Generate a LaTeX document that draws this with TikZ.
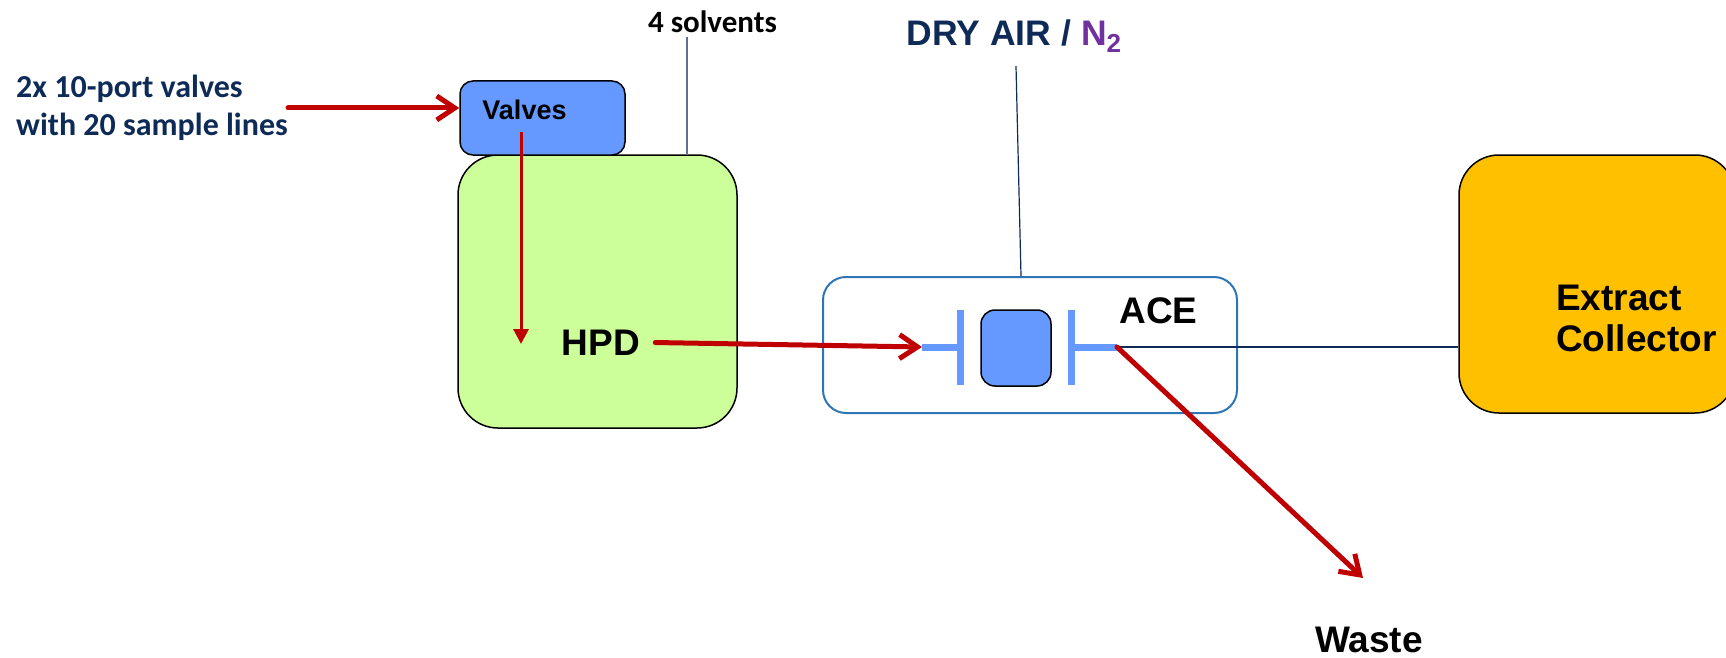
\documentclass[tikz,border=0pt]{standalone}
\usepackage{fontspec}
\setmainfont{Liberation Sans}
\newfontfamily\calib{Carlito}
\usetikzlibrary{arrows.meta}
\definecolor{navy}{HTML}{0E2B58}
\definecolor{flowred}{HTML}{C00000}
\definecolor{valveblue}{HTML}{6699FF}
\definecolor{hpdgreen}{HTML}{CCFF99}
\definecolor{aceblue}{HTML}{2E75B6}
\definecolor{gold}{HTML}{FFC000}
\definecolor{npurple}{HTML}{7030A0}
\definecolor{pipegray}{HTML}{5B7294}

\begin{document}
\begin{tikzpicture}[x=1pt, y=-1pt,
    box/.style = {draw=black, line width=1.5pt, rounded corners=#1, inner sep=0pt},
    lbl/.style = {inner sep=0pt, font=\bfseries\fontsize{37}{41}\selectfont},
    note/.style = {inner sep=0pt, font=\calib\bfseries\fontsize{32}{38}\selectfont},
    flow/.style = {draw=flowred, line width=5pt, line cap=round, -{Straight Barb[length=18pt,width=24pt]}},
    feed/.style = {draw=flowred, line width=3pt, -{Triangle[length=15pt,width=15pt]}},
    pipe/.style = {draw=navy, line width=1.2pt},
    port/.style = {draw=valveblue, line width=7pt}]
  \useasboundingbox (0,0) rectangle (1726,658);

  % units and boxes
  \node[box=40pt, fill=hpdgreen, minimum width=279pt, minimum height=273pt] (hpdbox) at (597.5,291.5) {};
  \node[box=13pt, fill=valveblue, minimum width=165pt, minimum height=74pt] (valves) at (542.5,118) {};
  \node[box=23pt, draw=aceblue, line width=2pt, minimum width=414pt, minimum height=136pt] (ace) at (1030,345) {};
  \node[box=14pt, fill=valveblue, minimum width=70pt, minimum height=76pt] (cell) at (1016,348) {};
  \node[box=40pt, fill=gold, minimum width=276pt, minimum height=258pt] (ext) at (1597,284) {};

  % texts
  \node[note, text=navy, align=left, anchor=north west] (src) at (16,75) {2x 10-port valves\\with 20 sample lines};
  \node[note, font=\calib\bfseries\fontsize{31}{37}\selectfont, anchor=base] (sol) at (712.5,33) {4 solvents};
  \node[inner sep=0pt, font=\bfseries\fontsize{27}{30}\selectfont, anchor=base] (vtxt) at (524.5,120) {Valves};
  \node[lbl, anchor=base] (hpd) at (601,355) {HPD};
  \node[lbl, anchor=base] (acetxt) at (1158.5,323) {ACE};
  \node[lbl, anchor=base] (waste) at (1369,652) {Waste};
  \node[lbl, align=left, anchor=north west] (exttxt) at (1556,285) {Extract\\Collector};
  \node[inner sep=0pt, font=\bfseries\fontsize{35.5}{40}\selectfont, text=navy, anchor=base] (dry) at (1014,46)
    {DRY AIR / \textcolor{npurple}{N\raisebox{-7pt}{\fontsize{26}{26}\selectfont 2}}};

  \coordinate (feedin) at (521,344);
  \coordinate (solin) at (687,155);
  \coordinate (inL) at (922,347);
  \coordinate (outR) at (1117,347);
  \coordinate (wastein) at (1363,578);

  % column ports
  \foreach \x in {960.5,1071.5}
    \draw[port] (\x,310) -- (\x,385);
  \draw[port] (inL) -- (957,347);
  \draw[port] (1075,347) -- (outR);

  % lines
  \draw[pipe, draw=pipegray] (solin |- sol.south) ++(0,4) -- (solin);
  \draw[pipe] (dry.south) ++(2,13) -- ([xshift=-9pt]ace.north);
  \draw[pipe] (outR) -- (outR -| ext.west);

  % flow
  \draw[flow] (src.east) -- (src.east -| valves.west);
  \draw[feed] (feedin |- vtxt.south) ++(0,12) -- (feedin);
  \draw[flow, shorten <=15pt] (hpd.east) -- (inL);
  \draw[flow] (outR) -- (wastein);
\end{tikzpicture}
\end{document}
